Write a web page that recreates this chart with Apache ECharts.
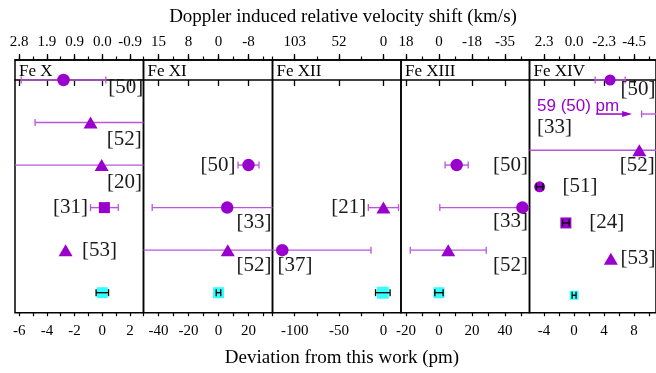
<!DOCTYPE html>
<html>
<head>
<meta charset="utf-8">
<script src="https://cdn.jsdelivr.net/npm/echarts@6/dist/echarts.min.js"></script>
<style>
  html, body { margin: 0; padding: 0; background: #fff; }
  #chart { width: 656px; height: 373px; }
</style>
</head>
<body>
<div id="chart"></div>
<script>
// panels (one per ion)
const ions = ['Fe X', 'Fe XI', 'Fe XII', 'Fe XIII', 'Fe XIV'];
const xRanges = [[-6.3, 2.97], [-50, 36], [-125, 19.8], [-23, 54.8], [-5.95, 10.92]];
const majorTicks = [[-6, -4, -2, 0, 2], [-40, -20, 0, 20], [-100, -50, 0], [-20, 0, 20, 40], [-4, 0, 4, 8]];
const minorStep = [1, 10, 25, 10, 2];
const velocityLabels = [
  ['2.8', '1.9', '0.9', '0.0', '-0.9'],
  ['15', '8', '0', '-8'],
  ['103', '52', '0'],
  ['18', '0', '-18', '-35'],
  ['2.3', '0.0', '-2.3', '-4.5']
];

// [row, deviation (pm), error (pm), symbol, reference]
const feX = [
  [0, -2.8, 3.05, 'circle', '[50]'],
  [1, -0.85, 4, 'triangle', '[52]'],
  [2, -0.05, 20, 'triangle', '[20]'],
  [3, 0.15, 1.0, 'rect', '[31]'],
  [4, -2.65, 0, 'triangle', '[53]']
];
const feXI = [
  [2, 20, 7, 'circle', '[50]'],
  [3, 5.8, 50, 'circle', '[33]'],
  [4, 6.2, 100, 'triangle', '[52]']
];
const feXII = [
  [3, 0, 17, 'triangle', '[21]'],
  [4, -114, 100, 'circle', '[37]']
];
const feXIII = [
  [2, 10.7, 7, 'circle', '[50]'],
  [3, 50.5, 50, 'circle', '[33]'],
  [4, 5.6, 23, 'triangle', '[52]']
];
const feXIV = [
  [0, 4.8, 2, 'circle', '[50]'],
  [0.8, 59, 50, 'none', '[33]'],
  [1.65, 8.7, 20, 'triangle', '[52]'],
  [2.51, -4.6, 0.44, 'circle', '[51]'],
  [3.36, -1.1, 0.44, 'rect', '[24]'],
  [4.2, 4.9, 0, 'triangle', '[53]']
];
// this work: [row, deviation, error]
const thisWork = [[5, 0, 0.45], [5, 0, 1.5], [5, -0.7, 8.2], [5, 0, 2.5], [5.06, 0, 0.26]];
const offScaleNote = '59 (50) pm';
const darkBarRefs = [[], [], [], [], ['[51]', '[24]']];

const measurements = [feX, feXI, feXII, feXIII, feXIV];

// label placement: [align, dx, dy] relative to marker centre
const labelPlace = [
  [['left', 44.7, 7], ['left', 16.3, 17], ['left', 5.3, 17.3], ['right', -16.3, 0], ['left', 16.3, 0]],
  [['right', -13, 0], ['left', 9.3, 14.4], ['left', 8.7, 15.7]],
  [['right', -17.3, 0], ['left', -4.7, 15.7]],
  [['left', 36.3, 0], ['left', -29.3, 13.7], ['left', 44.7, 15.7]],
  [['left', 10.3, 9.7], null, ['left', -19.7, 15], ['left', 23, 0], ['left', 23.3, 0], ['left', 9.7, 0]]
];

const gridLeft = [15, 143.5, 272.5, 401, 529.5];
const gridWidth = [128.5, 129, 128.5, 128.5, 127.5];
const PURPLE = '#9900cc';
const BAR = '#bb55dd';
const SERIF = '"Liberation Serif", "Times New Roman", serif';

const chart = echarts.init(document.getElementById('chart'));

function minors(i) {
  const out = [];
  const s = minorStep[i];
  for (let v = Math.ceil(xRanges[i][0] / s) * s; v <= xRanges[i][1] + 1e-9; v += s) out.push(+v.toFixed(6));
  return out;
}

// error bar renderer, clipped to the panel
function makeBarRenderer(meas) {
  return (params, api) => {
    const r = api.value(0), x = api.value(1), e = api.value(2);
    const dark = api.value(3), off = api.value(4);
    const cs = params.coordSys;
    const children = [];
    const stroke = dark ? '#000' : BAR;
    if (e > 0) {
      const pL = api.coord([x - e, r]);
      const pR = api.coord([x + e, r]);
      const y = pL[1];
      const x0 = Math.max(pL[0], cs.x), x1 = Math.min(pR[0], cs.x + cs.width);
      const cap = 3.5;
      children.push({ type: 'line', shape: { x1: x0, y1: y, x2: x1, y2: y }, style: { stroke, lineWidth: dark ? 1.3 : 1.4 } });
      if (pL[0] >= cs.x) children.push({ type: 'line', shape: { x1: pL[0], y1: y - cap, x2: pL[0], y2: y + cap }, style: { stroke, lineWidth: 1.3 } });
      if (pR[0] <= cs.x + cs.width) children.push({ type: 'line', shape: { x1: pR[0], y1: y - cap, x2: pR[0], y2: y + cap }, style: { stroke, lineWidth: 1.3 } });
      if (off) {
        // off-scale point: arrow + note
        const tip = pL[0] - 9.5;
        children.push({ type: 'line', shape: { x1: tip - 36, y1: y, x2: tip - 6, y2: y }, style: { stroke: PURPLE, lineWidth: 1.5 } });
        children.push({ type: 'polygon', shape: { points: [[tip, y], [tip - 10, y - 3], [tip - 10, y + 3]] }, style: { fill: PURPLE } });
        children.push({ type: 'text', x: cs.x + 7.5, y: y - 7.5, style: { text: offScaleNote, fill: PURPLE, font: '17px "Liberation Sans", Arial, sans-serif', textAlign: 'left', textVerticalAlign: 'middle' } });
        const ref = meas.find((m) => m[0] === r && m[1] === x);
        children.push({ type: 'text', x: cs.x + 7.5, y: y + 13, style: { text: ref ? ref[4] : '', fill: '#1a1a1a', font: '21px ' + SERIF, textAlign: 'left', textVerticalAlign: 'middle' } });
      }
    }
    return { type: 'group', children };
  };
}

const grids = [], xAxes = [], yAxes = [], series = [];

ions.forEach((ion, i) => {
  grids.push({ left: gridLeft[i], width: gridWidth[i], top: 60, height: 252.7, show: true, borderColor: '#000', borderWidth: 1.5, backgroundColor: 'transparent' });
  const base = { type: 'value', gridIndex: i, min: xRanges[i][0], max: xRanges[i][1], splitLine: { show: false } };
  const lineOn = { show: true, lineStyle: { color: '#000', width: 1.5 } };
  // bottom major
  xAxes.push(Object.assign({}, base, {
    position: 'bottom', axisLine: lineOn,
    axisTick: { customValues: majorTicks[i], length: 6, lineStyle: { color: '#000', width: 1.3 } },
    axisLabel: { customValues: majorTicks[i], color: '#000', fontFamily: SERIF, fontSize: 15, margin: 11 }
  }));
  // bottom minor
  xAxes.push(Object.assign({}, base, {
    position: 'bottom', axisLine: { show: false },
    axisTick: { customValues: minors(i), length: 3.5, lineStyle: { color: '#000', width: 1.2 } },
    axisLabel: { show: false }
  }));
  // top major (velocity)
  xAxes.push(Object.assign({}, base, {
    position: 'top', axisLine: lineOn,
    axisTick: { customValues: majorTicks[i], length: 6, lineStyle: { color: '#000', width: 1.3 } },
    axisLabel: {
      customValues: majorTicks[i], color: '#000', fontFamily: SERIF, fontSize: 15, margin: 10,
      formatter: (v) => velocityLabels[i][majorTicks[i].indexOf(v)]
    }
  }));
  // top minor
  xAxes.push(Object.assign({}, base, {
    position: 'top', axisLine: { show: false },
    axisTick: { customValues: minors(i), length: 3.5, lineStyle: { color: '#000', width: 1.2 } },
    axisLabel: { show: false }
  }));
  yAxes.push({ type: 'value', gridIndex: i, min: -0.47, max: 5.47, inverse: true, show: false });

  const meas = measurements[i];
  const barData = meas.map((m) => [m[0], m[1], m[2], darkBarRefs[i].includes(m[4]) ? 1 : 0, m[1] > xRanges[i][1] ? 1 : 0]);
  barData.push([thisWork[i][0], thisWork[i][1], thisWork[i][2], 1, 0]);

  // purple error bars (under the markers)
  series.push({
    type: 'custom', xAxisIndex: 4 * i, yAxisIndex: i, z: 2,
    encode: { x: 1, y: 0 },
    data: barData.filter((d) => !d[3]),
    renderItem: makeBarRenderer(meas)
  });

  // cyan "this work" square
  series.push({
    type: 'scatter', xAxisIndex: 4 * i, yAxisIndex: i, z: 3,
    symbol: 'rect', symbolSize: i === 4 ? 9 : (i === 2 ? 12 : 11),
    itemStyle: { color: '#00ffff' },
    data: [[thisWork[i][1], thisWork[i][0]]]
  });

  // literature values
  series.push({
    type: 'scatter', xAxisIndex: 4 * i, yAxisIndex: i, z: 5,
    itemStyle: { color: PURPLE, opacity: 1 },
    data: meas.map((m, k) => {
      const lp = labelPlace[i][k];
      const size = m[3] === 'triangle' ? [14, 12] : (m[3] === 'rect' ? 11 : (i === 4 ? 11 : 12.5));
      return {
        value: [m[1], m[0]],
        symbol: m[3],
        symbolSize: size,
        label: lp ? {
          show: true, position: 'inside', align: lp[0], verticalAlign: 'middle', offset: [lp[1], lp[2]],
          formatter: m[4], color: '#1a1a1a', fontFamily: SERIF, fontSize: 21
        } : { show: false }
      };
    })
  });

  // black error bars (over the markers)
  series.push({
    type: 'custom', xAxisIndex: 4 * i, yAxisIndex: i, z: 6,
    encode: { x: 1, y: 0 },
    data: barData.filter((d) => d[3]),
    renderItem: makeBarRenderer(meas)
  });
});

chart.setOption({
  animation: false,
  backgroundColor: '#fff',
  title: [
    { text: 'Doppler induced relative velocity shift (km/s)', left: 338, top: 3, textAlign: 'center', textStyle: { fontFamily: SERIF, fontSize: 19, fontWeight: 'normal', color: '#000' } },
    { text: 'Deviation from this work (pm)', left: 337, top: 344, textAlign: 'center', textStyle: { fontFamily: SERIF, fontSize: 19, fontWeight: 'normal', color: '#000' } }
  ],
  grid: grids,
  xAxis: xAxes,
  yAxis: yAxes,
  graphic: ions.map((t, i) => ({
    type: 'text', left: gridLeft[i] + 4, top: 63, z: 10,
    style: { text: t, font: '17px ' + SERIF, fill: '#000' }
  })),
  series: series
});
</script>
</body>
</html>
